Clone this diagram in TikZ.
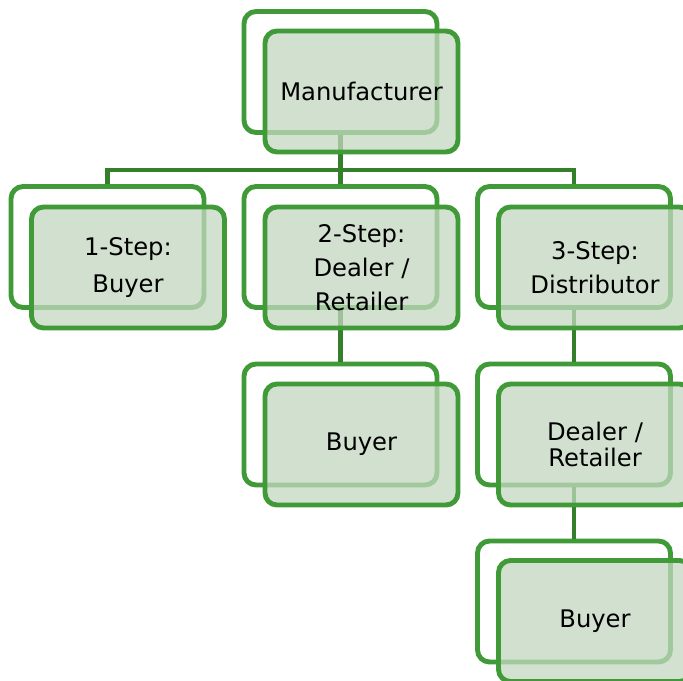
\documentclass[tikz,border=0pt]{standalone}
\usepackage{fontspec}
\setmainfont{DejaVu Sans}
\usetikzlibrary{positioning}

\definecolor{boxline}{RGB}{64,154,56}
\definecolor{busline}{RGB}{52,128,42}
\definecolor{boxfill}{RGB}{196,216,192}

\tikzset{
  backbox/.style={draw=boxline, line width=2.8pt, rounded corners=0.24cm, fill=white,
    minimum width=3.86cm, minimum height=2.42cm, inner sep=0pt},
  frontbox/.style={backbox, fill=boxfill, fill opacity=0.75, text opacity=1,
    font=\fontsize{13.8}{19.5}\selectfont, align=center},
  link/.style={draw=busline, line width=2.5pt}
}

\begin{document}
\begin{tikzpicture}[x=0.02cm, y=-0.02cm]
  \useasboundingbox (0,0) rectangle (683,680);

  % Back frames
  \node[backbox] (mbk)  at (340.5,72)  {};
  \node[backbox] (s1bk) at (107.5,247) {};
  \node[backbox] (s2bk) at (340.5,247) {};
  \node[backbox] (s3bk) at (574,247)   {};
  \node[backbox] (b2bk) at (340.5,424.5) {};
  \node[backbox] (d3bk) at (574,424.5) {};
  \node[backbox] (b3bk) at (574,601.5) {};

  % Connectors
  \coordinate (bus) at (340.5,170);
  \draw[link] (s1bk.north) |- (bus) -| (s3bk.north);
  \draw[link] (mbk.south) -- (s2bk.north);
  \draw[link] (s2bk.south) -- (b2bk.north);
  \draw[link] (s3bk.south) -- (d3bk.north);
  \draw[link] (d3bk.south) -- (b3bk.north);

  % Front boxes
  \node[frontbox] (m)  at (361.5,91.5)  {Manufacturer};
  \node[frontbox] (s1) at (128,267.5)   {1-Step:\\[2pt]Buyer};
  \node[frontbox] (s2) at (361.5,267.5) {2-Step:\\Dealer /\\Retailer};
  \node[frontbox] (s3) at (595,267.5)   {3-Step:\\Distributor};
  \node[frontbox] (b2) at (361.5,444.5) {Buyer};
  \node[frontbox, font=\fontsize{13.8}{15}\selectfont] (d3) at (595,444.5) {Dealer /\\Retailer};
  \node[frontbox] (b3) at (595,621)     {Buyer};
\end{tikzpicture}
\end{document}
